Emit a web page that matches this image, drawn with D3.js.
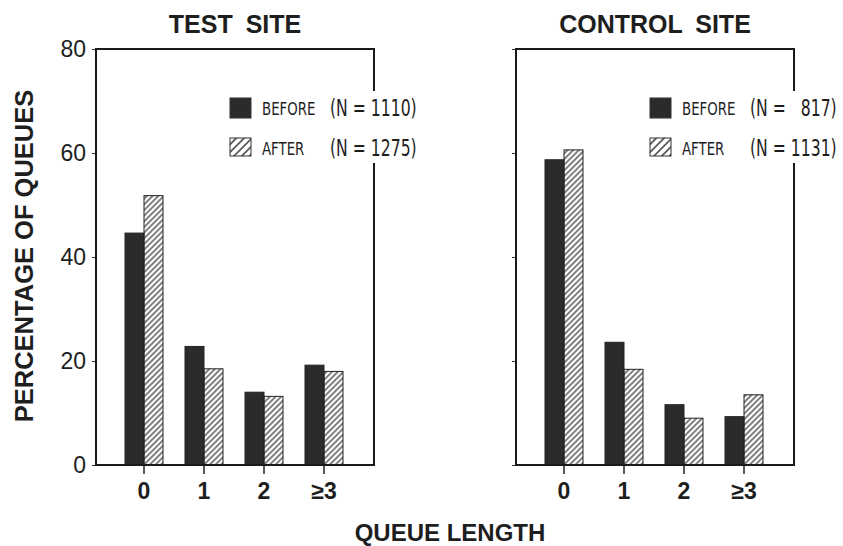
<!DOCTYPE html>
<html>
<head>
<meta charset="utf-8">
<script src="https://cdn.jsdelivr.net/npm/d3@7"></script>
<style>
  body { margin: 0; background: #fff; }
  text { fill: #1e1e1e; }
</style>
</head>
<body>
<script>
var categories = ["0", "1", "2", "\u22653"];
var seriesNames = ["BEFORE", "AFTER"];
var testBefore = [44.6, 22.8, 14.0, 19.2];
var testAfter = [51.8, 18.5, 13.2, 18.0];
var controlBefore = [58.7, 23.6, 11.6, 9.3];
var controlAfter = [60.6, 18.4, 9.0, 13.5];
var testCounts = ["1110", "1275"];
var controlCounts = ["\u2007817", "1131"];
var yTicks = [0, 20, 40, 60, 80];
var panelTitles = ["TEST SITE", "CONTROL SITE"];

function main() {
    var width = 843, height = 546;
    var pw = 278, ph = 416, top = 49;

    var svg = d3.select("body").append("svg")
        .attr("width", width).attr("height", height);

    var defs = svg.append("defs");
    function hatch(id, gap, sw) {
        defs.append("pattern")
            .attr("id", id)
            .attr("patternUnits", "userSpaceOnUse")
            .attr("width", gap).attr("height", gap)
            .attr("patternTransform", "rotate(45)")
            .append("line")
            .attr("x1", gap / 2).attr("x2", gap / 2)
            .attr("y1", 0).attr("y2", gap)
            .attr("stroke", "#2a2a2a")
            .attr("stroke-width", sw);
    }
    hatch("hatchBar", 4, 1.2);
    hatch("hatchKey", 5.5, 1.4);

    var y = d3.scaleLinear().domain([0, 80]).range([ph, 0]);
    var x0 = d3.scaleBand().domain(categories).range([18, 258]);
    var x1 = d3.scaleBand().domain(seriesNames).range([-19, 19]);
    var fills = { "BEFORE": "#2b2b2b", "AFTER": "url(#hatchBar)" };

    var panels = [
        { left: 96, title: panelTitles[0], before: testBefore, after: testAfter, counts: testCounts, labels: true },
        { left: 516, title: panelTitles[1], before: controlBefore, after: controlAfter, counts: controlCounts, labels: false }
    ];

    panels.forEach(function(p) {
        var g = svg.append("g").attr("transform", "translate(" + p.left + "," + top + ")");

        // bars
        var rows = categories.map(function(c, i) {
            return { cat: c, values: [ { s: "BEFORE", v: p.before[i] }, { s: "AFTER", v: p.after[i] } ] };
        });
        var groups = g.selectAll("g.grp")
            .data(rows)
            .enter().append("g")
            .attr("class", "grp")
            .attr("transform", function(d) { return "translate(" + (x0(d.cat) + x0.bandwidth() / 2) + ",0)"; });
        groups.selectAll("rect")
            .data(function(d) { return d.values; })
            .enter().append("rect")
            .attr("x", function(d) { return x1(d.s); })
            .attr("width", x1.bandwidth())
            .attr("y", function(d) { return y(d.v); })
            .attr("height", function(d) { return ph - y(d.v); })
            .attr("fill", function(d) { return fills[d.s]; })
            .attr("stroke", "#222")
            .attr("stroke-width", 1);

        // x axis ticks + labels
        var xa = g.append("g")
            .attr("transform", "translate(0," + ph + ")")
            .call(d3.axisBottom(x0).tickSize(9).tickPadding(9));
        xa.select(".domain").remove();
        xa.selectAll("line").attr("stroke", "#222").attr("stroke-width", 1.5);
        xa.selectAll("text")
            .style("font-family", "'Liberation Sans', Arial, sans-serif")
            .style("font-weight", "bold")
            .style("font-size", "23px")
            .attr("fill", "#1e1e1e");

        // y axis ticks
        var ya = g.append("g")
            .call(d3.axisLeft(y).tickValues(yTicks).tickSize(4).tickPadding(6)
                .tickFormat(p.labels ? d3.format("d") : function() { return ""; }));
        ya.select(".domain").remove();
        ya.selectAll("line").attr("stroke", "#333");
        ya.selectAll("text")
            .style("font-family", "'Liberation Sans', Arial, sans-serif")
            .style("font-size", "23px")
            .attr("fill", "#1e1e1e");

        // frame
        g.append("rect")
            .attr("x", 0).attr("y", 0)
            .attr("width", pw).attr("height", ph)
            .attr("fill", "none")
            .attr("stroke", "#1a1a1a")
            .attr("stroke-width", 2);

        // title
        g.append("text")
            .attr("x", pw / 2).attr("y", -16)
            .attr("text-anchor", "middle")
            .style("font-family", "'Liberation Sans', Arial, sans-serif")
            .style("font-weight", "bold")
            .style("font-size", "25px")
            .style("word-spacing", "6px")
            .text(p.title);

        // legend (white box breaks the right border)
        var lg = g.append("g");
        lg.append("rect")
            .attr("x", 128).attr("y", 42)
            .attr("width", 200).attr("height", 72)
            .attr("fill", "#fff");
        seriesNames.forEach(function(s, i) {
            var yy = i === 0 ? 49 : 89;
            lg.append("rect")
                .attr("x", 134).attr("y", yy)
                .attr("width", 21).attr("height", i === 0 ? 20 : 18)
                .attr("fill", i === 0 ? "#2b2b2b" : "url(#hatchKey)")
                .attr("stroke", "#333").attr("stroke-width", 1);
            lg.append("text")
                .attr("transform", "translate(166," + (yy + 17) + ") scale(0.72,1)")
                .style("font-family", "'DejaVu Sans', sans-serif")
                .style("font-size", "18.5px")
                .attr("fill", "#333")
                .text(s);
            lg.append("text")
                .attr("transform", "translate(234," + (yy + 18) + ") scale(0.68,1)")
                .style("font-family", "'DejaVu Sans', sans-serif")
                .style("font-size", "23px")
                .style("white-space", "pre")
                .attr("fill", "#333")
                .text("(N = " + p.counts[i] + ")");
        });
    });

    // shared axis titles
    svg.append("text")
        .attr("transform", "translate(33,256) rotate(-90)")
        .attr("text-anchor", "middle")
        .style("font-family", "'Liberation Sans', Arial, sans-serif")
        .style("font-weight", "bold")
        .style("font-size", "25.5px")
        .text("PERCENTAGE OF QUEUES");

    svg.append("text")
        .attr("x", 450).attr("y", 541)
        .attr("text-anchor", "middle")
        .style("font-family", "'Liberation Sans', Arial, sans-serif")
        .style("font-weight", "bold")
        .style("font-size", "24px")
        .text("QUEUE LENGTH");
}

window.onload = main;
</script>
</body>
</html>
